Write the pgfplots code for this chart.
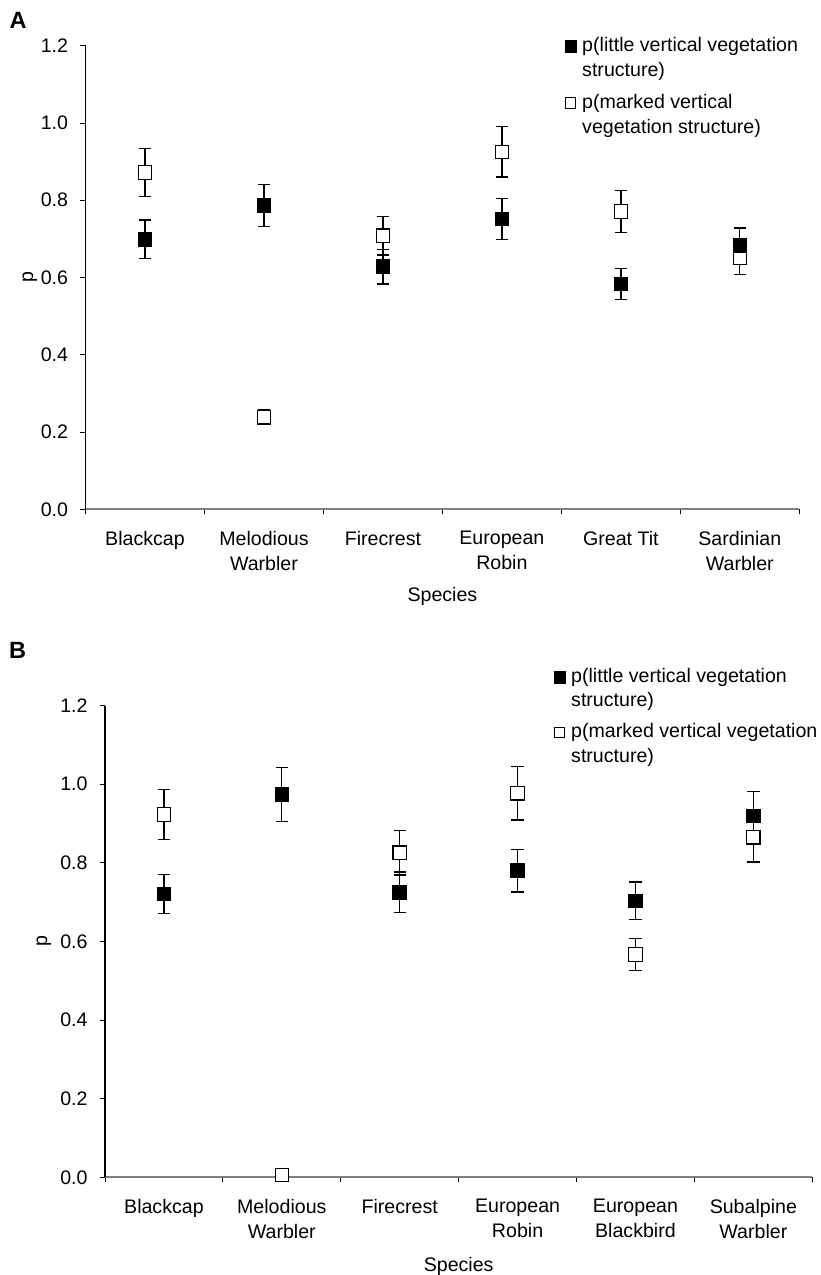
\documentclass[border=0pt]{standalone}
\usepackage{fontspec}
\setmainfont{Liberation Sans}
\usepackage{pgfplots}
\usepackage{pgfplotstable}
\pgfplotsset{compat=1.18}
\newcommand\fs{\fontsize{19.6}{25}\selectfont}
\pgfplotsset{
  myaxis/.style={
    scale only axis, anchor=south west, clip=false,
    xmin=-0.5, xmax=5.5, ymin=0, ymax=1.2,
    axis lines=left, axis line style={-},
    x axis line style={draw=gray, line width=1.8pt},
    y axis line style={draw=black, line width=1pt},
    ytick={0,0.2,0.4,0.6,0.8,1.0,1.2},
    /pgf/number format/assume math mode=true,
    yticklabel style={/pgf/number format/fixed, /pgf/number format/fixed zerofill, /pgf/number format/precision=1, anchor=east, inner sep=0pt, xshift=-12.3pt, font=\fs},
    xtick={0,1,2,3,4,5},
    minor xtick={-0.5,0.5,1.5,2.5,3.5,4.5,5.5},
    tick align=outside, major tick length=5pt, minor tick length=5pt,
    major x tick style={draw=none},
    minor x tick style={draw=black, line width=0.8pt},
    major y tick style={draw=black, line width=0.8pt},
    xticklabel style={align=center, anchor=north, inner sep=0pt, yshift=-17pt, font=\fs},
    xlabel={Species}, ylabel={p},
    xlabel style={at={(axis description cs:0.5,0)}, anchor=center, font=\fs},
    ylabel style={at={(axis description cs:0,0.5)}, anchor=center, font=\fs},
    legend style={draw=none, fill=none, inner sep=0pt, anchor=north west, font=\fs, column sep=6pt, row sep=0pt, nodes={inner sep=0pt}, cells={anchor=base west}},
  },
  errs/.style={forget plot, draw=none, mark=none,
      error bars/y dir=both, error bars/y explicit,
      error bars/error bar style={line width=1.3pt, black},
      error bars/error mark options={rotate=90, line width=1.3pt, mark size=6.2pt, black}},
  filled/.style={forget plot, only marks, mark=square*, mark size=6.7pt, mark options={draw=black, fill=black, line width=1.2pt}},
  open/.style={forget plot, only marks, mark=square*, mark size=6.7pt, mark options={draw=black, fill=white, line width=1.2pt}},
  fsq/.style={legend image code/.code={\fill[black] (0pt,0pt) rectangle (11.3pt,11.3pt);}},
  osq/.style={legend image code/.code={\draw[black, fill=white, line width=1pt] (0.5pt,0.5pt) rectangle (10.8pt,10.8pt);}},
}
\pgfplotstableread{
x  little  elittle  marked  emarked
0  0.699   0.050    0.872   0.062
1  0.786   0.054    0.238   0.019
2  0.628   0.045    0.708   0.050
3  0.751   0.053    0.925   0.065
4  0.583   0.040    0.771   0.054
5  0.683   0.045    0.652   0.045
}\dataA
\pgfplotstableread{
x  little  elittle  marked  emarked
0  0.721   0.050    0.923   0.064
1  0.974   0.068    0.006   0.000
2  0.725   0.052    0.826   0.057
3  0.780   0.054    0.977   0.068
4  0.703   0.048    0.567   0.041
5  0.919   0.063    0.865   0.063
}\dataB
\begin{document}
\begin{tikzpicture}[x=1pt,y=1pt]
\useasboundingbox (0,0) rectangle (821,1275);
\node[font=\fontsize{23.5}{28}\selectfont\bfseries] at (18,1254.3) {A};
\node[font=\fontsize{23.5}{28}\selectfont\bfseries] at (17.5,625) {B};
% Panel A
\begin{axis}[myaxis, at={(85.5pt,765.7pt)}, width=713.8pt, height=463.6pt,
  xticklabels={Blackcap,{Melodious\\Warbler},Firecrest,{European\\Robin},{Great Tit},{Sardinian\\Warbler}},
  xlabel style={yshift=-86.7pt}, ylabel style={yshift=55.5pt},
  legend style={at={(axis cs:3.525,1.231)}}]
\addplot[errs] table[x=x, y=marked, y error=emarked] {\dataA};
\addplot[errs] table[x=x, y=little, y error=elittle] {\dataA};
\addplot[open] table[x=x, y=marked] {\dataA};
\addplot[filled] table[x=x, y=little] {\dataA};
\addlegendimage{fsq}
\addlegendentry{\rule{0pt}{18pt}p(little vertical vegetation}
\addlegendimage{empty legend}
\addlegendentry{\rule{0pt}{22.9pt}structure)}
\addlegendimage{osq}
\addlegendentry{\rule{0pt}{30.9pt}p(marked vertical}
\addlegendimage{empty legend}
\addlegendentry{\rule{0pt}{22.8pt}vegetation structure)}
\end{axis}
% Panel B
\begin{axis}[myaxis, at={(105pt,97.7pt)}, width=707.3pt, height=471.7pt,
  xticklabels={Blackcap,{Melodious\\Warbler},Firecrest,{European\\Robin},{European\\Blackbird},{Subalpine\\Warbler}},
  xlabel style={yshift=-88.7pt}, ylabel style={yshift=61pt},
  legend style={at={(axis cs:3.303,1.304)}}]
\addplot[errs] table[x=x, y=marked, y error=emarked] {\dataB};
\addplot[errs] table[x=x, y=little, y error=elittle] {\dataB};
\addplot[open] table[x=x, y=marked] {\dataB};
\addplot[filled] table[x=x, y=little] {\dataB};
\addlegendimage{fsq}
\addlegendentry{\rule{0pt}{18pt}p(little vertical vegetation}
\addlegendimage{empty legend}
\addlegendentry{\rule{0pt}{21.9pt}structure)}
\addlegendimage{osq}
\addlegendentry{\rule{0pt}{30.1pt}p(marked vertical vegetation}
\addlegendimage{empty legend}
\addlegendentry{\rule{0pt}{23.1pt}structure)}
\end{axis}
\end{tikzpicture}
\end{document}
